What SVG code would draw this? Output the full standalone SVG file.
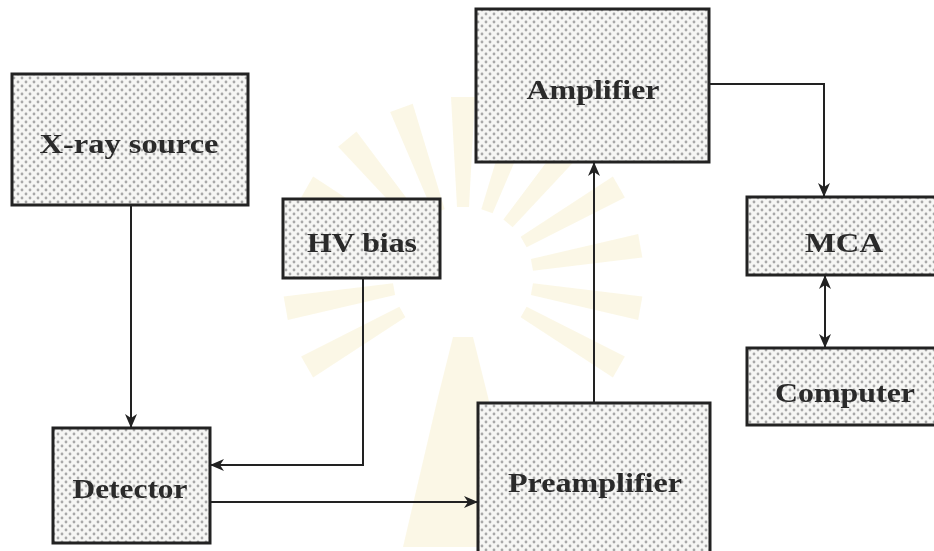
<svg xmlns="http://www.w3.org/2000/svg" width="934" height="551" viewBox="0 0 934 551">
<defs>
<pattern id="dots" width="8" height="8" patternUnits="userSpaceOnUse">
<rect width="8" height="8" fill="#f6f6f4"/>
<circle cx="2" cy="2" r="1.4" fill="#a8a8a8"/>
<circle cx="6" cy="6" r="1.4" fill="#a8a8a8"/>
</pattern>
<marker id="arr" viewBox="0 0 14 12" refX="14" refY="6" markerWidth="14" markerHeight="12" markerUnits="userSpaceOnUse" orient="auto-start-reverse">
<path d="M0,0 L14,6 L0,12 L4,6 Z" fill="#222"/>
</marker>
</defs>
<style>
.box{fill:url(#dots);stroke:#222;stroke-width:3}
.lbl{font-family:"Liberation Serif","DejaVu Serif",serif;font-weight:bold;font-size:28px;fill:#2a2a2a;text-anchor:middle}
.con{fill:none;stroke:#222;stroke-width:2}
.wm{fill:#f4e9b8;opacity:0.35}
</style>
<rect width="934" height="551" fill="#ffffff"/>
<g id="watermark">
<g class="wm" transform="translate(463,277)">
<path d="M-6,-70 L-12,-180 L12,-180 L6,-70 Z" transform="rotate(-60)"/>
<path d="M-6,-70 L-12,-180 L12,-180 L6,-70 Z" transform="rotate(-40)"/>
<path d="M-6,-70 L-12,-180 L12,-180 L6,-70 Z" transform="rotate(-20)"/>
<path d="M-6,-70 L-12,-180 L12,-180 L6,-70 Z" transform="rotate(0)"/>
<path d="M-6,-70 L-12,-180 L12,-180 L6,-70 Z" transform="rotate(20)"/>
<path d="M-6,-70 L-12,-180 L12,-180 L6,-70 Z" transform="rotate(40)"/>
<path d="M-6,-70 L-12,-180 L12,-180 L6,-70 Z" transform="rotate(60)"/>
<path d="M-6,-70 L-12,-180 L12,-180 L6,-70 Z" transform="rotate(80)"/>
<path d="M-6,-70 L-12,-180 L12,-180 L6,-70 Z" transform="rotate(100)"/>
<path d="M-6,-70 L-12,-180 L12,-180 L6,-70 Z" transform="rotate(120)"/>
<path d="M-6,-70 L-12,-180 L12,-180 L6,-70 Z" transform="rotate(-80)"/>
<path d="M-6,-70 L-12,-180 L12,-180 L6,-70 Z" transform="rotate(-100)"/>
<path d="M-6,-70 L-12,-180 L12,-180 L6,-70 Z" transform="rotate(-120)"/>
<path d="M-25,120 L-10,60 L10,60 L25,120 L60,270 L-60,270 Z"/>
</g>
</g>
<g id="connectors">
<path class="con" d="M131,205 V428" marker-end="url(#arr)"/>
<path class="con" d="M363,278 V465 H210" marker-end="url(#arr)"/>
<path class="con" d="M210,502 H478" marker-end="url(#arr)"/>
<path class="con" d="M594,403 V162" marker-end="url(#arr)"/>
<path class="con" d="M709,84 H824 V197" marker-end="url(#arr)"/>
<path class="con" d="M825,275 V348" marker-start="url(#arr)" marker-end="url(#arr)"/>
</g>
<g id="xray">
<rect class="box" x="12" y="74" width="236" height="131"/>
<text class="lbl" x="129" y="153" textLength="179" lengthAdjust="spacingAndGlyphs">X-ray source</text>
</g>
<g id="hvbias">
<rect class="box" x="283" y="199" width="157" height="79"/>
<text class="lbl" x="362" y="252" textLength="110" lengthAdjust="spacingAndGlyphs">HV bias</text>
</g>
<g id="amplifier">
<rect class="box" x="476" y="9" width="233" height="153"/>
<text class="lbl" x="593" y="99" textLength="133" lengthAdjust="spacingAndGlyphs">Amplifier</text>
</g>
<g id="mca">
<rect class="box" x="747" y="197" width="200" height="78"/>
<text class="lbl" x="844" y="252" textLength="78" lengthAdjust="spacingAndGlyphs">MCA</text>
</g>
<g id="computer">
<rect class="box" x="747" y="348" width="200" height="77"/>
<text class="lbl" x="845" y="402" textLength="140" lengthAdjust="spacingAndGlyphs">Computer</text>
</g>
<g id="detector">
<rect class="box" x="53" y="428" width="157" height="115"/>
<text class="lbl" x="130" y="498" textLength="115" lengthAdjust="spacingAndGlyphs">Detector</text>
</g>
<g id="preamplifier">
<rect class="box" x="478" y="403" width="232" height="160"/>
<text class="lbl" x="595" y="492" textLength="174" lengthAdjust="spacingAndGlyphs">Preamplifier</text>
</g>
</svg>
